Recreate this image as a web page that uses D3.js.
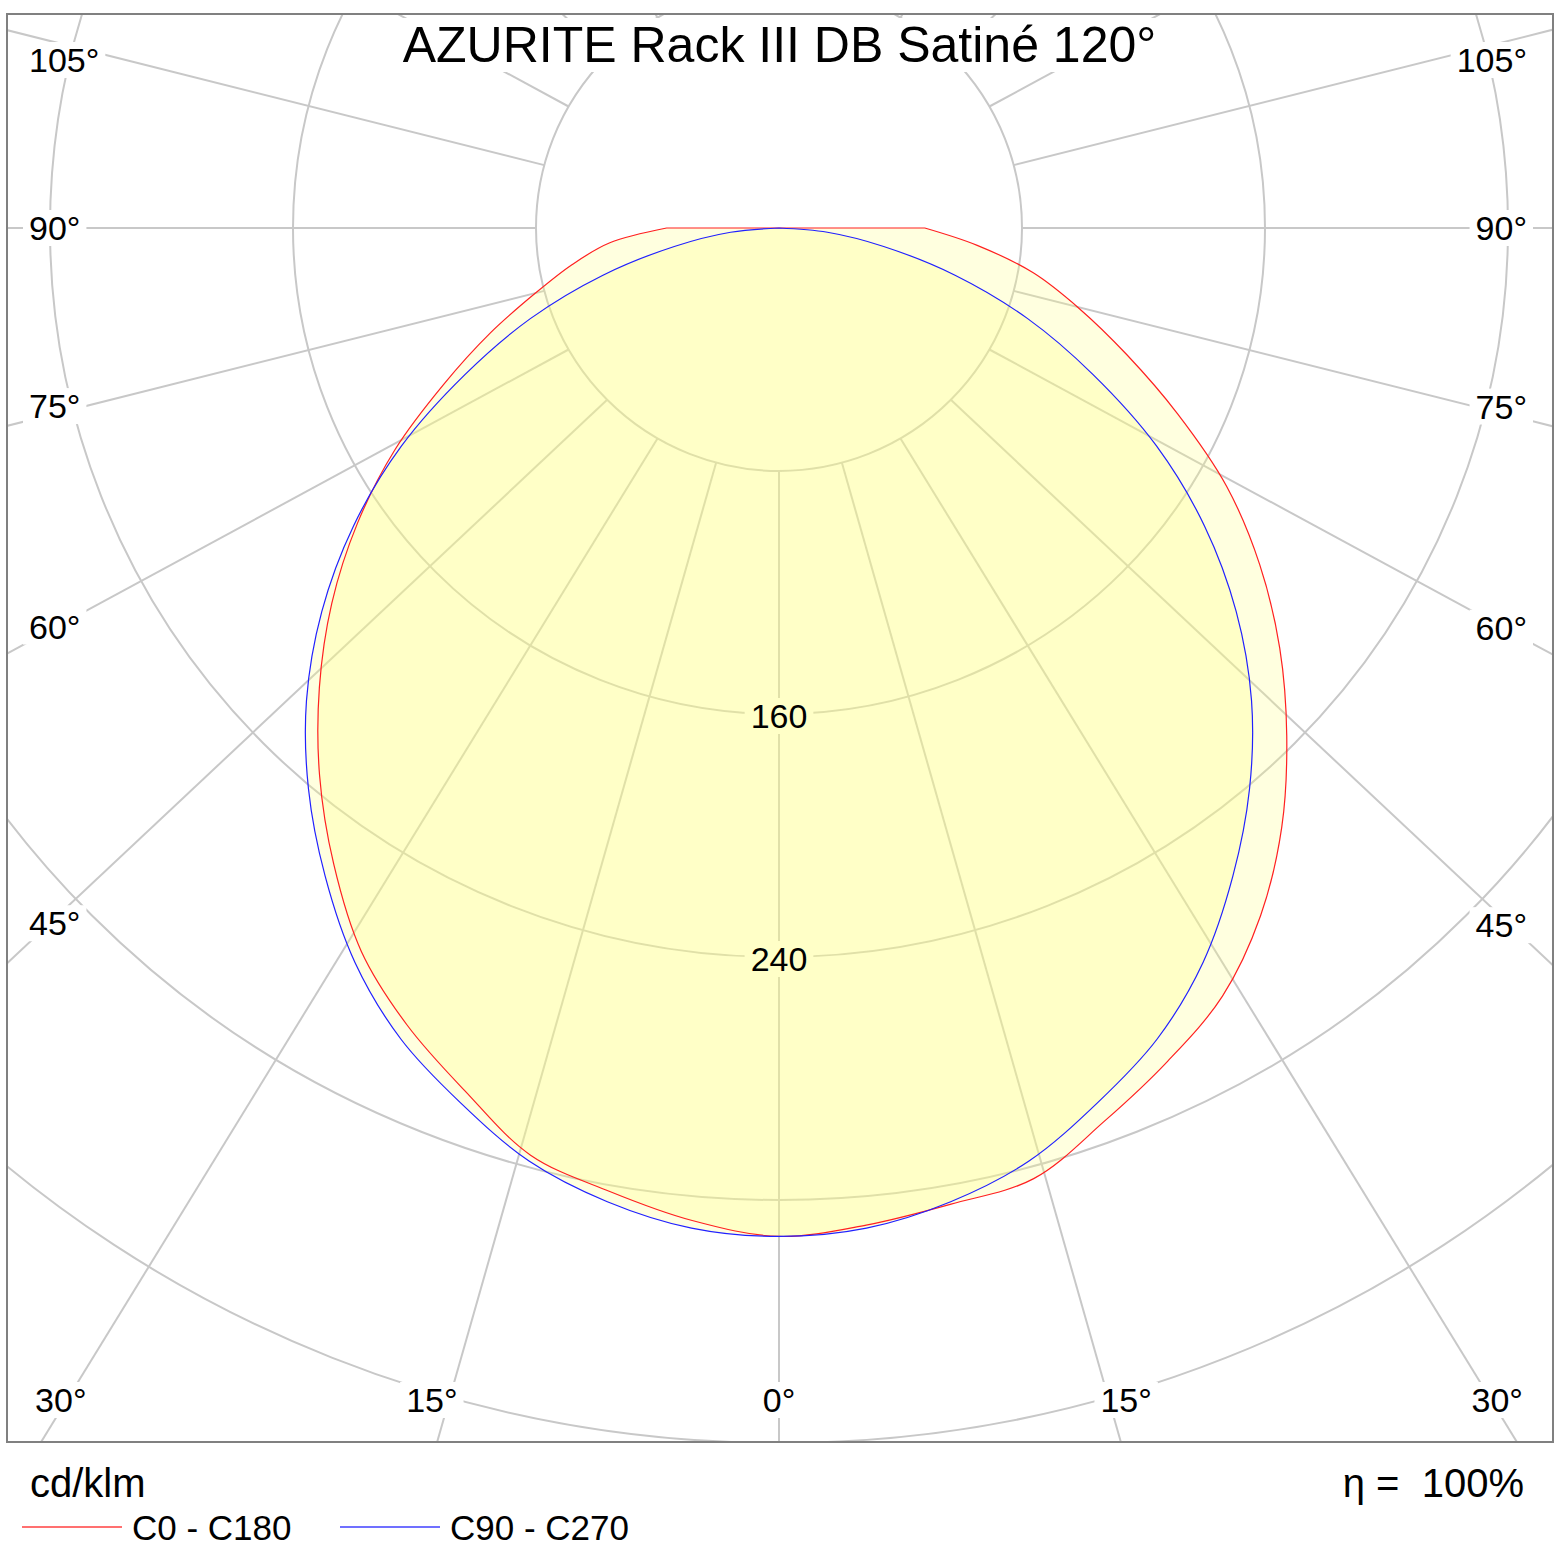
<!DOCTYPE html>
<html><head><meta charset="utf-8">
<script src="https://cdn.jsdelivr.net/npm/d3@7"></script>
<style>
html,body{margin:0;padding:0;background:#fff}
svg{display:block}
text{font-family:"Liberation Sans",Arial,Helvetica,sans-serif;fill:#000}
</style>
</head><body>
<svg id="chart" width="1562" height="1562"></svg>
<script>
// ---------------- data ----------------
const title = "AZURITE Rack III DB Satiné 120°";
const unitLabel = "cd/klm";
const efficiencyLabel = "η = 100%";
const seriesNames = ["C0 - C180", "C90 - C270"];

// gamma angles (degrees from nadir)
const gammaAngles = [0,5,10,15,20,25,30,35,40,45,50,55,60,65,70,75,80,85,90];
// C0 half-plane (right side), cd/klm
const c0Values   = [332,329.5,326.3,324,313,302.7,292,276.4,257.5,236.4,215.2,193.2,170.2,144.8,121.8,102.3,85,65.5,48];
// C180 half-plane (left side), cd/klm
const c180Values = [332,328,322,316,302.3,289.6,275,255.6,235.3,214,192.2,169.4,146,121.8,101.2,83.1,69.1,55.9,37];
// C90 / C270 half-planes (symmetric), cd/klm
const c90Values  = [332,330.5,325.5,318,306.5,294.6,279.2,260.5,241,220,196.5,171,143.5,114,87,60,35,16,0];
const c270Values = [332,330.5,325.5,318,306.5,294.6,279.2,260.5,241,220,196.5,171,143.5,114,87,60,35,16,0];

// grid
const circleValues = [80,160,240,320,400];
const valueTickLabels = [160,240];
const gridAngles = [-165,-150,-135,-120,-105,-90,-75,-60,-45,-30,-15,0,15,30,45,60,75,90,105,120,135,150,165,180];
const angleTickLabels = [-105,-90,-75,-60,-45,-30,-15,0,15,30,45,60,75,90,105];

// ---------------- layout ----------------
const W = 1562, H = 1562;
const frame = {x0:7, y0:14, x1:1553, y1:1442};
const cx = 779, cy = 228;
const r = d3.scaleLinear().domain([0,320]).range([0,972]);
const rad = Math.PI/180;
const dirAngle = t => t + 1.8*Math.sin(2*t*rad);
const gridColor = "#c8c8c8";

const svg = d3.select("#chart");
svg.append("rect").attr("width",W).attr("height",H).attr("fill","#fff");
svg.append("defs").append("clipPath").attr("id","frameClip")
  .append("rect").attr("x",frame.x0).attr("y",frame.y0)
  .attr("width",frame.x1-frame.x0).attr("height",frame.y1-frame.y0);

const gridG  = svg.append("g").attr("clip-path","url(#frameClip)");
const boxG   = svg.append("g");
const fillG  = svg.append("g").attr("transform",`translate(${cx},${cy})`);
const lineG  = svg.append("g").attr("transform",`translate(${cx},${cy})`);
const textG  = svg.append("g");

// circles
gridG.selectAll("circle").data(circleValues).join("circle")
  .attr("cx",cx).attr("cy",cy).attr("r",d=>r(d))
  .attr("fill","none").attr("stroke",gridColor).attr("stroke-width",2);

// radial lines
const r0 = r(circleValues[0]);
function rayStart(t){ return [cx + r0*Math.sin(t*rad), cy + r0*Math.cos(t*rad)]; }
gridG.selectAll("line").data(gridAngles).join("line")
  .each(function(t){
    const p0 = rayStart(t), f = dirAngle(t)*rad;
    d3.select(this).attr("x1",p0[0]).attr("y1",p0[1])
      .attr("x2",p0[0]+2600*Math.sin(f)).attr("y2",p0[1]+2600*Math.cos(f));
  })
  .attr("stroke",gridColor).attr("stroke-width",2);

// angle labels
function labelPos(t){
  const a = t === 0 || Math.abs(t) === 90 ? t : t + Math.sign(t)*(Math.abs(t) <= 30 ? 1.5 : 1.2);
  const s = Math.sin(a*rad), c = Math.cos(a*rad);
  if (Math.abs(t) <= 30){
    const k = (1400 - cy) / c;
    return {x: cx + k*s, y: 1400, anchor: "middle"};
  }
  const left = s < 0;
  const xt = left ? 54 : 1506;
  const k = (xt - cx) / s;
  const y = Math.max(60, cy + k*c);
  return {x: left ? 29 : 1527, y: y, anchor: left ? "start" : "end"};
}
const labelNodes = [];
angleTickLabels.forEach(t=>{
  const p = labelPos(t);
  const tx = textG.append("text").attr("x",p.x).attr("y",p.y+12)
    .attr("text-anchor",p.anchor).attr("font-size",34).text(Math.abs(t)+"°");
  labelNodes.push(tx);
});
valueTickLabels.forEach(v=>{
  const tx = textG.append("text").attr("x",cx).attr("y",cy + r(v) + 2 + 12)
    .attr("text-anchor","middle").attr("font-size",34).text(v);
  labelNodes.push(tx);
});
const titleNode = textG.append("text").attr("x",779.5).attr("y",62)
  .attr("text-anchor","middle").attr("font-size",50).text(title);
labelNodes.push(titleNode);

labelNodes.forEach(n=>{
  const b = n.node().getBBox();
  boxG.append("rect").attr("x",b.x-6).attr("y",b.y+1).attr("width",b.width+12).attr("height",b.height-2)
    .attr("fill","#fff");
});

// curves
const radial = d3.lineRadial().angle(d=>d.a).radius(d=>r(d.v)).curve(d3.curveCatmullRom.alpha(0.5));
function buildPoints(leftVals, rightVals){
  const pts = [];
  for (let i = gammaAngles.length-1; i >= 0; i--) pts.push({a: Math.PI + gammaAngles[i]*rad, v: leftVals[i]});
  for (let i = 1; i < gammaAngles.length; i++) pts.push({a: Math.PI - gammaAngles[i]*rad, v: rightVals[i]});
  return pts;
}
const redPath = radial(buildPoints(c180Values, c0Values)) + "Z";
const bluePath = radial(buildPoints(c270Values, c90Values)) + "Z";

[redPath, bluePath].forEach(d=>{
  fillG.append("path").attr("d",d).attr("fill","#ffff80").attr("fill-opacity",0.25).attr("stroke","none");
});
lineG.append("path").attr("d",redPath).attr("fill","none").attr("stroke","#ff2020").attr("stroke-width",1.2);
lineG.append("path").attr("d",bluePath).attr("fill","none").attr("stroke","#2020ff").attr("stroke-width",1.2);

// frame
svg.append("rect").attr("x",frame.x0).attr("y",frame.y0)
  .attr("width",frame.x1-frame.x0).attr("height",frame.y1-frame.y0)
  .attr("fill","none").attr("stroke","#808080").attr("stroke-width",2);

// footer
svg.append("text").attr("x",30).attr("y",1497).attr("font-size",40).text(unitLabel);
svg.append("text").attr("x",1524).attr("y",1497).attr("text-anchor","end").attr("font-size",40)
  .style("white-space","pre").text(efficiencyLabel.replace("= ","=  "));
const legend = [{name:seriesNames[0], color:"#ff4040", x:22},{name:seriesNames[1], color:"#4040ff", x:340}];
legend.forEach(l=>{
  svg.append("line").attr("x1",l.x).attr("x2",l.x+100).attr("y1",1527).attr("y2",1527)
    .attr("stroke",l.color).attr("stroke-width",1.5);
  svg.append("text").attr("x",l.x+110).attr("y",1540).attr("font-size",35).text(l.name);
});
</script>
</body></html>
